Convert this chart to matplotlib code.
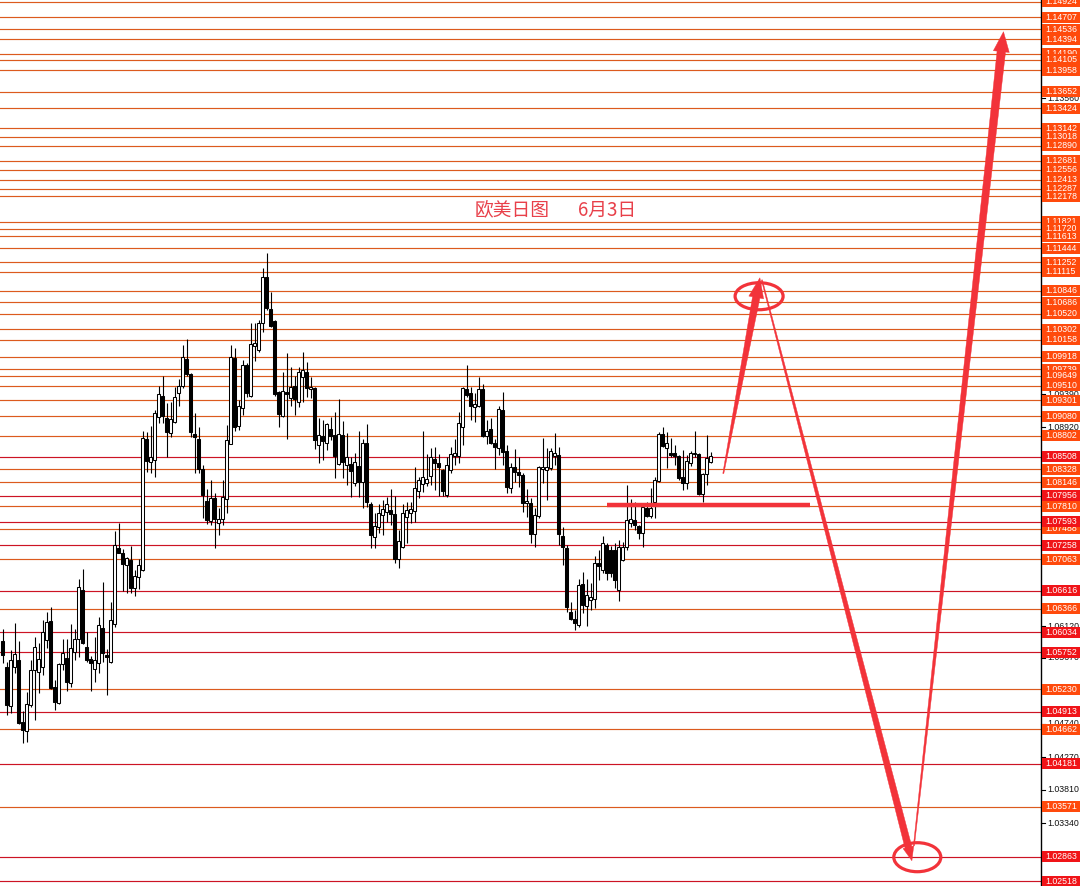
import numpy as np
import matplotlib
matplotlib.use("Agg")
import matplotlib.pyplot as plt
from matplotlib.patches import Polygon, Ellipse, Rectangle
from matplotlib.transforms import blended_transform_factory

plt.rcParams['font.family'] = ['Noto Sans CJK SC', 'DejaVu Sans']

# ---------------- data (EURUSD daily candles) ----------------
opens = [1.0591,1.0554,1.0499,1.0554,1.0564,1.0477,1.0464,1.0501,1.0550,1.0547,
         1.0554,1.0592,1.0619,1.0526,1.0503,1.0558,1.0567,1.0532,1.0575,1.0594,
         1.0663,1.0582,1.0566,1.0551,1.0560,1.0609,1.0571,1.0561,1.0615,1.0722,
         1.0715,1.0698,1.0705,1.0666,1.0681,1.0691,1.0876,1.0843,1.0846,1.0907,
         1.0936,1.0905,1.0884,1.0900,1.0941,1.0950,1.0989,1.0967,1.0883,1.0876,
         1.0833,1.0788,1.0760,1.0793,1.0757,1.0763,1.0791,1.0869,1.0990,1.0894,
         1.0919,1.0980,1.0936,1.1007,1.1001,1.1039,1.1104,1.1059,1.1042,1.0942,
         1.0908,1.0942,1.0934,1.0950,1.0928,1.0963,1.0970,1.0946,1.0948,1.0867,
         1.0880,1.0870,1.0890,1.0881,1.0840,1.0881,1.0839,1.0840,1.0814,1.0838,
         1.0815,1.0870,1.0784,1.0738,1.0752,1.0769,1.0773,1.0776,1.0770,1.0707,
         1.0723,1.0766,1.0771,1.0774,1.0802,1.0812,1.0814,1.0824,1.0848,1.0842,
         1.0832,1.0797,1.0832,1.0852,1.0852,1.0893,1.0946,1.0941,1.0921,1.0922,
         1.0946,1.0880,1.0890,1.0870,1.0863,1.0917,1.0859,1.0807,1.0836,1.0829,
         1.0825,1.0785,1.0785,1.0742,1.0767,1.0833,1.0832,1.0835,1.0852,1.0853,
         1.0739,1.0722,1.0632,1.0622,1.0613,1.0671,1.0640,1.0649,1.0650,1.0701,
         1.0691,1.0726,1.0719,1.0719,1.0663,1.0705,1.0723,1.0757,1.0762,1.0753,
         1.0743,1.0778,1.0767,1.0787,1.0817,1.0883,1.0863,1.0856,1.0856,1.0852,
         1.0822,1.0814,1.0842,1.0855,1.0855,1.0798,1.0826,1.0843]
highs = [1.0608,1.0561,1.0578,1.0616,1.0591,1.0492,1.0519,1.0564,1.0597,1.0588,
         1.0621,1.0632,1.0639,1.0536,1.0560,1.0594,1.0594,1.0615,1.0608,1.0678,
         1.0692,1.0604,1.0570,1.0597,1.0625,1.0674,1.0580,1.0646,1.0746,1.0757,
         1.0721,1.0709,1.0725,1.0691,1.0707,1.0887,1.0886,1.0894,1.0917,1.0950,
         1.0965,1.0926,1.0928,1.0949,1.0960,1.1008,1.1017,1.0969,1.0912,1.0893,
         1.0839,1.0805,1.0818,1.0800,1.0778,1.0818,1.0895,1.1008,1.1004,1.0931,
         1.0987,1.0983,1.1039,1.1039,1.1044,1.1117,1.1138,1.1083,1.1044,1.0943,
         1.0970,1.0997,1.0977,1.0965,1.0977,1.0998,1.0984,1.0963,1.0949,1.0905,
         1.0903,1.0898,1.0907,1.0914,1.0932,1.0901,1.0884,1.0850,1.0856,1.0887,
         1.0876,1.0897,1.0787,1.0771,1.0784,1.0790,1.0794,1.0805,1.0795,1.0747,
         1.0784,1.0787,1.0787,1.0836,1.0822,1.0887,1.0855,1.0863,1.0864,1.0855,
         1.0834,1.0850,1.0864,1.0876,1.0914,1.0949,1.0980,1.0949,1.0941,1.0963,
         1.0953,1.0903,1.0905,1.0876,1.0922,1.0942,1.0867,1.0842,1.0862,1.0850,
         1.0828,1.0805,1.0793,1.0778,1.0837,1.0877,1.0863,1.0863,1.0884,1.0864,
         1.0752,1.0726,1.0646,1.0635,1.0678,1.0688,1.0678,1.0673,1.0711,1.0719,
         1.0739,1.0729,1.0725,1.0729,1.0733,1.0730,1.0811,1.0791,1.0787,1.0754,
         1.0784,1.0787,1.0807,1.0822,1.0886,1.0893,1.0886,1.0877,1.0867,1.0853,
         1.0860,1.0853,1.0859,1.0887,1.0856,1.0828,1.0881,1.0857]
lows = [1.0560,1.0487,1.0489,1.0546,1.0474,1.0447,1.0448,1.0498,1.0480,1.0518,
        1.0543,1.0581,1.0523,1.0494,1.0502,1.0550,1.0520,1.0526,1.0564,1.0568,
        1.0587,1.0561,1.0520,1.0533,1.0546,1.0561,1.0515,1.0560,1.0611,1.0715,
        1.0661,1.0659,1.0659,1.0654,1.0664,1.0690,1.0829,1.0828,1.0822,1.0898,
        1.0898,1.0850,1.0879,1.0898,1.0922,1.0948,1.0965,1.0879,1.0828,1.0828,
        1.0764,1.0756,1.0754,1.0722,1.0740,1.0754,1.0771,1.0868,1.0887,1.0888,
        1.0910,1.0935,1.0935,1.0986,1.0998,1.1027,1.1058,1.1034,1.0936,1.0893,
        1.0907,1.0876,1.0922,1.0910,1.0921,1.0928,1.0935,1.0934,1.0862,1.0842,
        1.0846,1.0860,1.0874,1.0821,1.0839,1.0821,1.0811,1.0794,1.0809,1.0794,
        1.0778,1.0780,1.0722,1.0722,1.0743,1.0740,1.0759,1.0754,1.0701,1.0694,
        1.0722,1.0729,1.0757,1.0759,1.0793,1.0801,1.0809,1.0811,1.0804,1.0795,
        1.0795,1.0794,1.0828,1.0839,1.0842,1.0867,1.0935,1.0903,1.0900,1.0921,
        1.0879,1.0869,1.0869,1.0833,1.0853,1.0839,1.0800,1.0800,1.0815,1.0808,
        1.0773,1.0766,1.0729,1.0723,1.0764,1.0814,1.0790,1.0832,1.0839,1.0726,
        1.0698,1.0632,1.0621,1.0606,1.0611,1.0630,1.0612,1.0635,1.0637,1.0677,
        1.0687,1.0677,1.0681,1.0666,1.0647,1.0704,1.0719,1.0752,1.0747,1.0735,
        1.0723,1.0766,1.0764,1.0764,1.0815,1.0864,1.0835,1.0850,1.0839,1.0818,
        1.0804,1.0805,1.0838,1.0850,1.0797,1.0787,1.0811,1.0842]
closes = [1.0571,1.0501,1.0564,1.0573,1.0475,1.0465,1.0502,1.0550,1.0582,1.0566,
          1.0604,1.0618,1.0525,1.0505,1.0558,1.0574,1.0533,1.0581,1.0594,1.0667,
          1.0588,1.0564,1.0560,1.0564,1.0613,1.0574,1.0568,1.0621,1.0726,1.0715,
          1.0699,1.0708,1.0666,1.0683,1.0698,1.0877,1.0845,1.0850,1.0912,1.0939,
          1.0908,1.0886,1.0904,1.0935,1.0950,1.0991,1.0967,1.0886,1.0879,1.0833,
          1.0797,1.0762,1.0793,1.0763,1.0763,1.0794,1.0874,1.0991,1.0893,1.0922,
          1.0980,1.0941,1.1010,1.1011,1.1039,1.1104,1.1060,1.1035,1.0939,1.0911,
          1.0943,1.0939,1.0949,1.0932,1.0970,1.0973,1.0948,1.0949,1.0874,1.0881,
          1.0873,1.0897,1.0880,1.0852,1.0883,1.0843,1.0850,1.0831,1.0843,1.0815,
          1.0870,1.0787,1.0740,1.0753,1.0771,1.0777,1.0784,1.0770,1.0707,1.0732,
          1.0771,1.0776,1.0777,1.0807,1.0818,1.0822,1.0819,1.0850,1.0842,1.0836,
          1.0802,1.0839,1.0855,1.0856,1.0898,1.0948,1.0938,1.0922,1.0925,1.0946,
          1.0880,1.0887,1.0870,1.0864,1.0918,1.0857,1.0808,1.0836,1.0829,1.0825,
          1.0785,1.0788,1.0742,1.0769,1.0836,1.0836,1.0836,1.0859,1.0856,1.0742,
          1.0723,1.0639,1.0622,1.0616,1.0670,1.0642,1.0656,1.0653,1.0701,1.0697,
          1.0729,1.0687,1.0687,1.0677,1.0723,1.0723,1.0762,1.0763,1.0754,1.0743,
          1.0780,1.0767,1.0778,1.0818,1.0883,1.0866,1.0870,1.0853,1.0852,1.0821,
          1.0814,1.0845,1.0856,1.0856,1.0798,1.0826,1.0849,1.0852]

# horizontal levels (drawn order matters for overlapping labels)
level_prices = [1.14924, 1.14707, 1.14536, 1.14394, 1.14190, 1.14105, 1.13958,
                1.13652, 1.13424, 1.13142, 1.13018, 1.12890, 1.12681, 1.12556,
                1.12413, 1.12287, 1.12178, 1.11821, 1.11720, 1.11613, 1.11444,
                1.11252, 1.11115, 1.10846, 1.10686, 1.10520, 1.10302, 1.10158,
                1.09918, 1.09739, 1.09649, 1.09510, 1.09301, 1.09080, 1.08802,
                1.08508, 1.08328, 1.08146, 1.07956, 1.07810, 1.07488, 1.07593,
                1.07258, 1.07063, 1.06616, 1.06366, 1.06034, 1.05752, 1.05230,
                1.04913, 1.04662, 1.04181, 1.03571, 1.02863, 1.02518]
level_kinds = ['o', 'o', 'o', 'o', 'o', 'o', 'o',
               'o', 'o', 'o', 'o', 'o', 'o', 'o',
               'o', 'o', 'o', 'o', 'o', 'o', 'o',
               'o', 'o', 'o', 'o', 'o', 'o', 'o',
               'o', 'o', 'o', 'o', 'o', 'o', 'o',
               'r', 'o', 'o', 'r', 'o', 'o', 'r',
               'r', 'o', 'r', 'o', 'r', 'r', 'o',
               'r', 'o', 'r', 'o', 'r', 'r']

# plain price-scale ticks
tick_prices = [1.13560, 1.09390, 1.08920, 1.06120, 1.05670, 1.04740,
               1.04270, 1.03810, 1.03340]

# annotation anchors (candle index, price)
arrow1 = [(180.15, 1.0827), (189.3, 1.1103)]
arrow2 = [(189.8, 1.1100), (227.3, 1.0281)]
arrow3 = [(227.8, 1.0302), (250.2, 1.1450)]
circle1 = (189.1, 1.1077)
circle2 = (228.65, 1.0286)
support_line = [(151.1, 201.8), 1.0782]

title_left = "欧美日图"
title_right = "6月3日"

# ---------------- figure ----------------
W, H = 1080, 886
fig = plt.figure(figsize=(W / 100, H / 100), dpi=100)
fig.patch.set_facecolor('white')
axw = 1041 / W
ax = fig.add_axes([0, 0, axw, 1])
ax.set_facecolor('white')
ax.set_xlim(-0.675, 259.575)
ax.set_ylim(1.02454, 1.14947)
ax.set_xticks([])
ax.set_yticks([])
for s in ['top', 'left', 'bottom']:
    ax.spines[s].set_visible(False)
ax.spines['right'].set_color('black')
ax.spines['right'].set_linewidth(1.0)

ORANGE_LINE = '#DC5A1E'
RED_LINE = '#CC1424'
ORANGE_BOX = '#FF4A0C'
RED_BOX = '#F01418'

for p, k in zip(level_prices, level_kinds):
    ax.axhline(p, color=ORANGE_LINE if k == 'o' else RED_LINE, lw=0.85, zorder=1)

# candles
x = np.arange(len(opens))
o = np.array(opens); h = np.array(highs); l = np.array(lows); c = np.array(closes)
ax.vlines(x, l, h, color='black', lw=0.8, zorder=3)
up = c >= o
bottoms = np.minimum(o, c)
heights = np.maximum(np.abs(c - o), 0.00012)
ax.bar(x[up], heights[up], bottom=bottoms[up], width=0.62, color='white',
       edgecolor='black', linewidth=0.75, zorder=4)
ax.bar(x[~up], heights[~up], bottom=bottoms[~up], width=0.62, color='black',
       edgecolor='black', linewidth=0.75, zorder=4)

# ---------------- annotations ----------------
ARROW = '#F2333A'


def tapered_arrow(tail, tip, w0, w1, hw, hl, color):
    P0 = ax.transData.transform(tail)
    P1 = ax.transData.transform(tip)
    d = P1 - P0
    L = np.hypot(*d)
    u = d / L
    n = np.array([-u[1], u[0]])
    base = P1 - u * hl
    pts = [P0 + n * w0 / 2, base + n * w1 / 2, base + n * hw / 2, P1,
           base - n * hw / 2, base - n * w1 / 2, P0 - n * w0 / 2]
    pts = ax.transData.inverted().transform(np.array(pts))
    ax.add_patch(Polygon(pts, closed=True, facecolor=color, edgecolor=color,
                         lw=0.3, zorder=6))


tapered_arrow(arrow1[0], arrow1[1], 1.0, 7.5, 15, 20, ARROW)
tapered_arrow(arrow2[0], arrow2[1], 1.0, 7.0, 11, 14, ARROW)
tapered_arrow(arrow3[0], arrow3[1], 1.0, 8.5, 16, 20, ARROW)

px_y = (1.14947 - 1.02454) / H
px_x = (259.575 + 0.675) / 1041
ax.add_patch(Ellipse(circle1, 48 * px_x, 27 * px_y, fill=False, edgecolor=ARROW,
                     lw=2.3, zorder=6))
ax.add_patch(Ellipse(circle2, 47 * px_x, 29 * px_y, fill=False, edgecolor=ARROW,
                     lw=2.3, zorder=6))
ax.plot(support_line[0], [support_line[1]] * 2, color=ARROW, lw=3.2,
        solid_capstyle='butt', zorder=6)

ax.text(475 / 1041, 1 - 210 / H, title_left, transform=ax.transAxes,
        fontsize=13.5, color='#E8404A', ha='left', va='center', zorder=7)
ax.text(578 / 1041, 1 - 210 / H, title_right, transform=ax.transAxes,
        fontsize=13.5, color='#E8404A', ha='left', va='center', zorder=7)

# ---------------- price scale labels ----------------
bt = blended_transform_factory(fig.transFigure, ax.transData)
lab_font = dict(family='Liberation Sans', size=6.3)
for p in tick_prices:
    ax.plot([1041 / W, 1045 / W], [p, p], color='black', lw=0.8,
            transform=bt, clip_on=False, zorder=8)
    ax.text(1047 / W, p, f"{p:.5f}", transform=bt, color='#111111',
            ha='left', va='center', clip_on=False, zorder=8, **lab_font)

box_h = 11 * px_y
z = 10
for p, k in zip(level_prices, level_kinds):
    ax.add_patch(Rectangle((1042 / W, p - box_h / 2), 38 / W, box_h,
                           transform=bt, facecolor=ORANGE_BOX if k == 'o' else RED_BOX,
                           edgecolor='none', clip_on=False, zorder=z))
    ax.text(1045 / W, p, f"{p:.5f}", transform=bt, color='white', ha='left',
            va='center', clip_on=False, zorder=z + 0.5, **lab_font)
    z += 1

fig.savefig('out.png', dpi=100, facecolor='white')
